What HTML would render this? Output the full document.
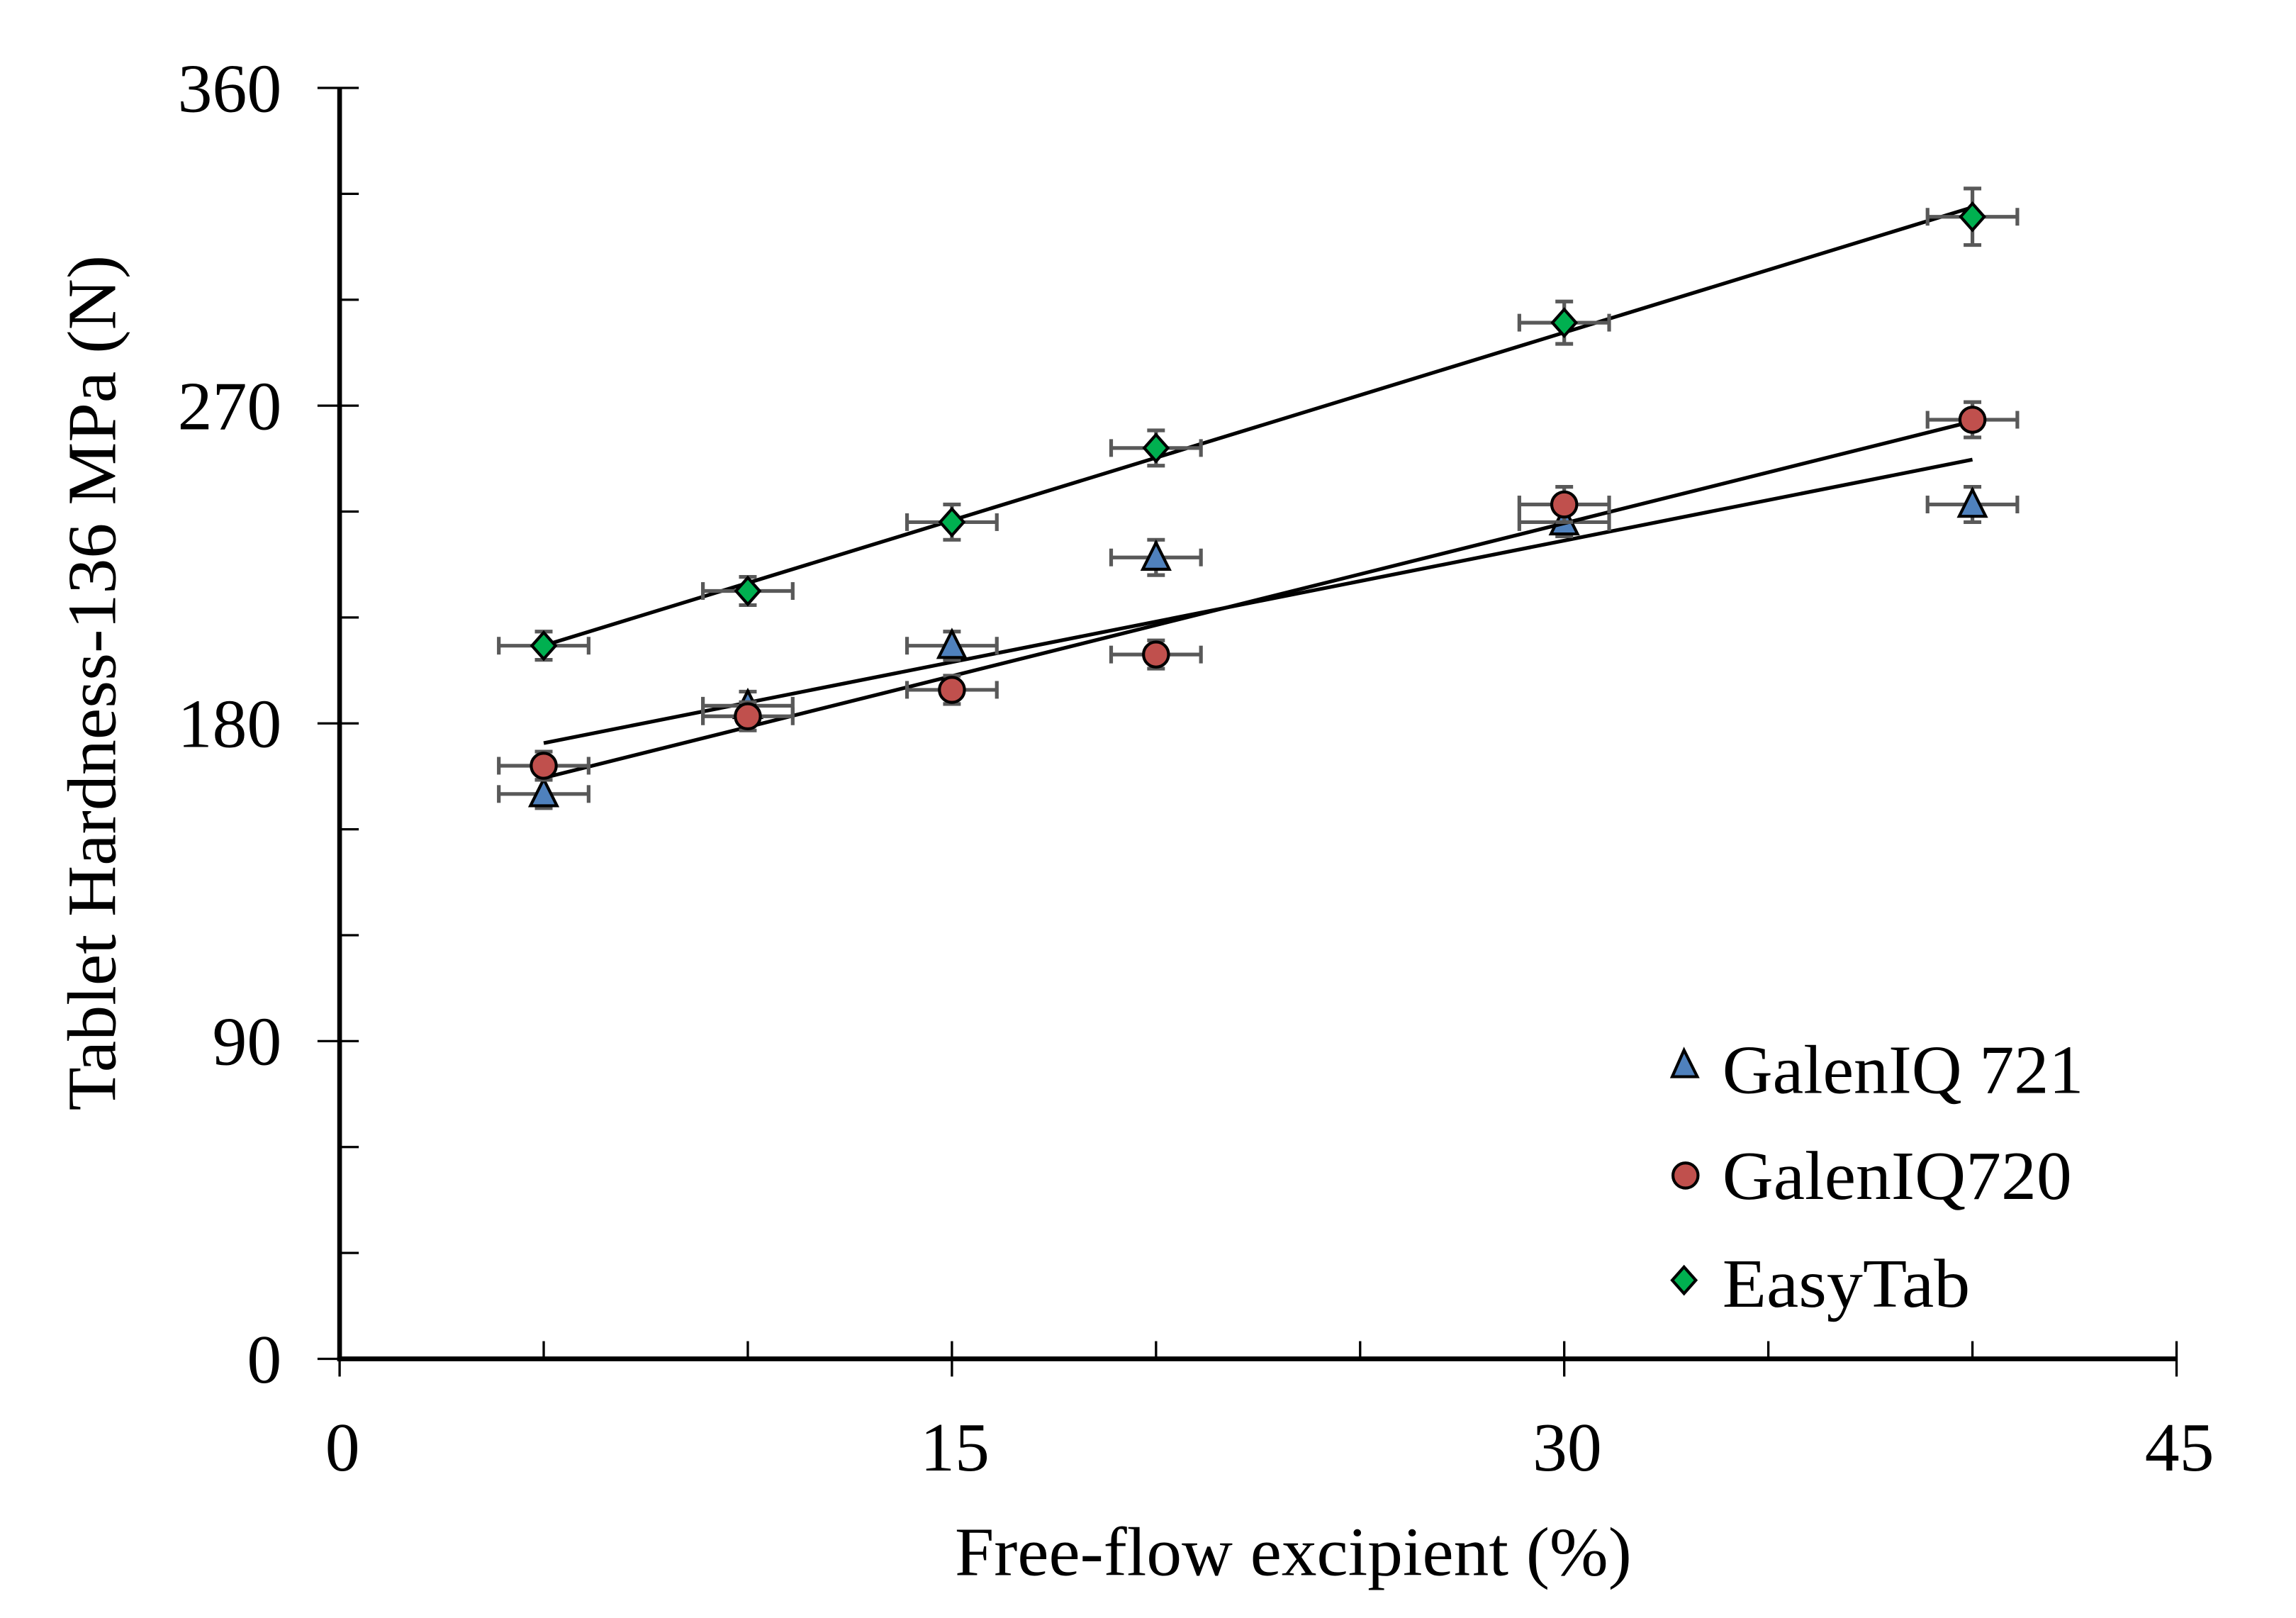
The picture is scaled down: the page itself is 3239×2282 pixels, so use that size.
<!DOCTYPE html>
<html><head><meta charset="utf-8"><style>
html,body{margin:0;padding:0;background:#fff;}
svg{display:block;}
text{font-family:"Liberation Serif",serif;fill:#000;}
</style></head><body>
<svg id="chart" width="3239" height="2282" viewBox="0 0 1557 1097" preserveAspectRatio="none" xmlns="http://www.w3.org/2000/svg">
<rect width="1557" height="1097" fill="#fff"/>
<g id="axes"></g>
<g id="marks"></g>
<text x="877" y="1068" font-size="47" text-anchor="middle" textLength="459" lengthAdjust="spacingAndGlyphs">Free-flow  excipient  (%)</text>
<text transform="translate(78,463) rotate(-90)" font-size="47" text-anchor="middle" textLength="580" lengthAdjust="spacingAndGlyphs">Tablet  Hardness-136  MPa (N)</text>
<g>
<polygon points="1142,712 1134,730 1151,730" fill="#4f81bd" stroke="#000" stroke-width="2"/>
<text x="1168" y="741" font-size="47" textLength="245" lengthAdjust="spacingAndGlyphs">GalenIQ 721</text>
<circle cx="1143" cy="797" r="8.5" fill="#c0504d" stroke="#000" stroke-width="2"/>
<text x="1168" y="813" font-size="47" textLength="237" lengthAdjust="spacingAndGlyphs">GalenIQ720</text>
<polygon points="1142,859 1150,868 1142,877 1134,868" fill="#00b050" stroke="#000" stroke-width="2"/>
<text x="1168" y="886" font-size="47" textLength="168" lengthAdjust="spacingAndGlyphs">EasyTab</text>
</g>
</svg>
<script>
const xValues = [5, 10, 15, 20, 30, 40];
const galen721 = [160, 185, 202, 227, 237, 242];
const galen720 = [168, 182, 189.5, 199.5, 242, 266];
const easyTab = [202, 217.5, 237, 258, 293.5, 323.5];
const err721 = [4, 4, 4, 5, 4, 5];
const err720 = [4, 4, 4, 4, 5, 5];
const errEasy = [4, 4, 5, 5, 6, 8];
const xErr = 1.1;
const xTicks = [0, 15, 30, 45];
const yTicks = [0, 90, 180, 270, 360];

const NS = "http://www.w3.org/2000/svg";
const X0 = 230.3, X1 = 1476, Y0 = 921.3, Y1 = 59.6;
function sx(v){ return X0 + v / 45 * (X1 - X0); }
function sy(v){ return Y0 - v / 360 * (Y0 - Y1); }
function mk(tag, attrs, parent){
  const e = document.createElementNS(NS, tag);
  for (const k in attrs) e.setAttribute(k, attrs[k]);
  parent.appendChild(e);
  return e;
}
const axes = document.getElementById('axes');
const marks = document.getElementById('marks');
let l = mk('line', {x1:X0-1.6, y1:Y0, x2:X1, y2:Y0, stroke:'#000', 'stroke-width':3.2}, axes);


l = mk('line', {x1:X0, y1:Y0+1.6, x2:X0, y2:Y1, stroke:'#000', 'stroke-width':3.2}, axes);


for (let v = 0; v <= 45; v += 5) {
  const major = v % 15 === 0;
  const t = mk('line', {x1:sx(v), x2:sx(v), y1: Y0 - 12, y2: major ? Y0 + 12 : Y0, stroke:'#000', 'stroke-width':1.6}, axes);
  
  
}
xTicks.forEach(v => {
  const t = mk('text', {x:sx(v) + 2, y:997, 'font-size':47, 'text-anchor':'middle'}, axes);
  t.textContent = v;
  
  
});
for (let v = 0; v <= 360; v += 30) {
  const major = v % 90 === 0;
  const t = mk('line', {x1: major ? X0 - 15 : X0, x2:X0 + 13, y1:sy(v), y2:sy(v), stroke:'#000', 'stroke-width':1.6}, axes);
  
  
}
yTicks.forEach(v => {
  const t = mk('text', {x:191, y:sy(v) + 16, 'font-size':47, 'text-anchor':'end'}, axes);
  t.textContent = v;
  
  
});
function fit(ys){
  const n = xValues.length;
  const mx = xValues.reduce((a,b)=>a+b)/n, my = ys.reduce((a,b)=>a+b)/n;
  let num = 0, den = 0;
  xValues.forEach((x,i)=>{ num += (x-mx)*(ys[i]-my); den += (x-mx)*(x-mx); });
  const b = num/den; return [my - b*mx, b];
}
function series(name, ys, errs, shape, color){
  const g = mk('g', {}, marks);
  
  
  const [a, b] = fit(ys);
  const xa = xValues[0], xb = xValues[xValues.length-1];
  const tl = mk('line', {x1:sx(xa), y1:sy(a+b*xa), x2:sx(xb), y2:sy(a+b*xb), stroke:'#000', 'stroke-width':2.5}, g);
  
  
  xValues.forEach((x, i) => {
    const cx = sx(x), cy = sy(ys[i]);
    const eg = mk('g', {stroke:'#595959', 'stroke-width':2.5, fill:'none'}, g);
    
    
    const xl = sx(x - xErr), xr = sx(x + xErr), yt = sy(ys[i] + errs[i]), yb = sy(ys[i] - errs[i]);
    mk('line', {x1:xl, x2:xr, y1:cy, y2:cy}, eg);
    mk('line', {x1:xl, x2:xl, y1:cy-6, y2:cy+6}, eg);
    mk('line', {x1:xr, x2:xr, y1:cy-6, y2:cy+6}, eg);
    mk('line', {x1:cx, x2:cx, y1:yt, y2:yb}, eg);
    mk('line', {x1:cx-6, x2:cx+6, y1:yt, y2:yt}, eg);
    mk('line', {x1:cx-6, x2:cx+6, y1:yb, y2:yb}, eg);
    let m;
    if (shape === 'tri') m = mk('polygon', {points:`${cx},${cy-10} ${cx-9},${cy+8} ${cx+9},${cy+8}`}, g);
    else if (shape === 'circ') m = mk('circle', {cx:cx, cy:cy, r:8.5}, g);
    else m = mk('polygon', {points:`${cx},${cy-9} ${cx+8},${cy} ${cx},${cy+9} ${cx-8},${cy}`}, g);
    m.setAttribute('fill', color); m.setAttribute('stroke', '#000'); m.setAttribute('stroke-width', 2);
    
    
  });
}
series('galeniq721', galen721, err721, 'tri', '#4f81bd');
series('galeniq720', galen720, err720, 'circ', '#c0504d');
series('easytab', easyTab, errEasy, 'dia', '#00b050');
</script>
</body></html>
